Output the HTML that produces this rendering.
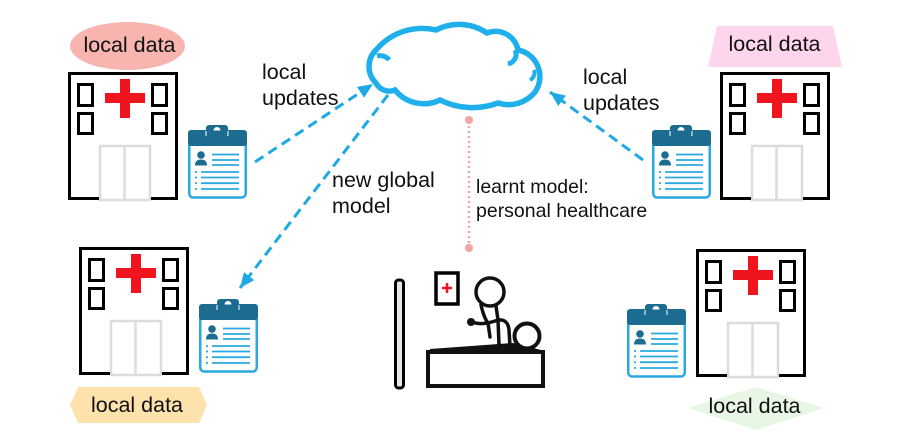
<!DOCTYPE html>
<html>
<head>
<meta charset="utf-8">
<style>
  html, body { margin: 0; padding: 0; background: #fff; }
  svg { display: block; }
  text { font-family: "Liberation Sans", Arial, sans-serif; fill: #111; }
</style>
</head>
<body>
<svg width="900" height="445" viewBox="0 0 900 445" xmlns="http://www.w3.org/2000/svg">
  <defs>
    <g id="hosp">
      <rect x="32" y="74" width="50" height="54" fill="#fff" stroke="#dcdcdc" stroke-width="2.5"/>
      <line x1="56.5" y1="74" x2="56.5" y2="128" stroke="#dcdcdc" stroke-width="2.5"/>
      <path d="M31 126.5 L1.5 126.5 L1.5 1.5 L108.5 1.5 L108.5 126.5 L83 126.5" fill="none" stroke="#000" stroke-width="3"/>
      <rect x="10.5" y="12.5" width="14" height="21" fill="none" stroke="#000" stroke-width="3"/>
      <rect x="10.5" y="41.5" width="14" height="20" fill="none" stroke="#000" stroke-width="3"/>
      <rect x="84.5" y="12.5" width="14" height="21" fill="none" stroke="#000" stroke-width="3"/>
      <rect x="84.5" y="41.5" width="14" height="20" fill="none" stroke="#000" stroke-width="3"/>
      <rect x="37" y="21" width="40" height="10" fill="#f0141e"/>
      <rect x="52" y="7" width="10" height="39" fill="#f0141e"/>
    </g>
    <g id="clip">
      <rect x="1.25" y="14" width="56.5" height="58.5" rx="4" fill="#fff" stroke="#29a9e1" stroke-width="2.5"/>
      <rect x="0" y="5" width="59" height="16" rx="3" fill="#1b6c90"/>
      <rect x="18" y="0" width="22" height="9" rx="3" fill="#1b6c90"/>
      <path d="M25.5 5.5 A3.5 3.5 0 0 1 32.5 5.5 Z" fill="#fff"/>
      <line x1="18" y1="6" x2="18" y2="11" stroke="#fff" stroke-width="1"/>
      <line x1="40" y1="6" x2="40" y2="11" stroke="#fff" stroke-width="1"/>
      <circle cx="13" cy="30" r="3.8" fill="#1b6c90"/>
      <path d="M7 40.5 Q7 34.5 13 34.5 Q19 34.5 19 40.5 Z" fill="#1b6c90"/>
      <g stroke="#29a9e1" stroke-width="1.8">
        <line x1="24" y1="29.5" x2="51" y2="29.5"/>
        <line x1="24" y1="35" x2="51" y2="35"/>
        <line x1="24" y1="40" x2="51" y2="40"/>
        <line x1="13" y1="47" x2="51" y2="47"/>
        <line x1="13" y1="52.5" x2="51" y2="52.5"/>
        <line x1="13" y1="58.2" x2="51" y2="58.2"/>
        <line x1="13" y1="64" x2="51" y2="64"/>
        <line x1="7" y1="47" x2="9" y2="47"/>
        <line x1="7" y1="52.5" x2="9" y2="52.5"/>
        <line x1="7" y1="58.2" x2="9" y2="58.2"/>
        <line x1="7" y1="64" x2="9" y2="64"/>
      </g>
    </g>
    <marker id="ah" markerUnits="userSpaceOnUse" markerWidth="16" markerHeight="14" refX="15" refY="6.5" orient="auto">
      <path d="M0 0 L15 6.5 L0 13 Z" fill="#1da9e4"/>
    </marker>
  </defs>

  <!-- Labels backgrounds -->
  <ellipse cx="127.5" cy="46" rx="57.5" ry="24" fill="#f8b5b0"/>
  <polygon points="717,26 833,26 842,67 708,67" fill="#fdd6ee"/>
  <polygon points="78,387 199,387 207,405 199,423 78,423 70,405" fill="#fde3ab"/>
  <polygon points="688,408 756,387 824,408 756,430" fill="#e8f7e4"/>

  <text x="129.5" y="52" font-size="21.5" text-anchor="middle">local data</text>
  <text x="774.5" y="51" font-size="21.5" text-anchor="middle">local data</text>
  <text x="137" y="412" font-size="21.5" text-anchor="middle">local data</text>
  <text x="754.5" y="413" font-size="21.5" text-anchor="middle">local data</text>

  <!-- Hospitals -->
  <use href="#hosp" x="68" y="72"/>
  <use href="#hosp" x="720" y="72"/>
  <use href="#hosp" x="79" y="247"/>
  <use href="#hosp" x="696" y="249"/>

  <!-- Clipboards -->
  <use href="#clip" x="188" y="125"/>
  <use href="#clip" x="652" y="125"/>
  <use href="#clip" x="199" y="299"/>
  <use href="#clip" x="627" y="304"/>

  <!-- Cloud -->
  <path d="M376 83 A23 23 0 0 1 376 50 A60 60 0 0 1 436 30 A50 50 0 0 1 487 33 A23 23 0 0 1 518 50 A27 27 0 0 1 535 92 A34 34 0 0 1 498 103 A73 73 0 0 1 440 100 A37 37 0 0 1 395 90 A15 15 0 0 1 376 83 Z"
        fill="#fff" stroke="#1fb0ec" stroke-width="5.5"/>
  <path d="M377 56 A10 8 0 0 1 389 60" fill="none" stroke="#1fb0ec" stroke-width="5"/>
  <path d="M508 64 A11 10 0 0 0 515 50" fill="none" stroke="#1fb0ec" stroke-width="5"/>
  <path d="M530 80 A8 8 0 0 0 534 70" fill="none" stroke="#1fb0ec" stroke-width="4"/>

  <!-- Dashed arrows -->
  <g stroke="#1da9e4" stroke-width="3" stroke-dasharray="10 6" fill="none">
    <line x1="255" y1="162" x2="373" y2="84" marker-end="url(#ah)"/>
    <line x1="388" y1="95" x2="240" y2="288" marker-end="url(#ah)"/>
    <line x1="643" y1="160" x2="550" y2="92" marker-end="url(#ah)"/>
  </g>

  <!-- Pink dotted connector -->
  <line x1="469" y1="121" x2="469" y2="247" stroke="#f4a3a3" stroke-width="2.5" stroke-dasharray="2 3"/>
  <circle cx="469" cy="120" r="4" fill="#f4a3a3"/>
  <circle cx="469" cy="248" r="4" fill="#f4a3a3"/>

  <!-- Texts -->
  <text x="262" y="79" font-size="21.5">local</text>
  <text x="262" y="105" font-size="21.5">updates</text>
  <text x="583" y="84" font-size="21.5">local</text>
  <text x="583" y="110" font-size="21.5">updates</text>
  <text x="332" y="187" font-size="21.5">new global</text>
  <text x="332" y="213" font-size="21.5">model</text>
  <text x="476" y="193" font-size="19.5">learnt model:</text>
  <text x="476" y="217" font-size="19.5">personal healthcare</text>

  <!-- Patient scene -->
  <rect x="395.5" y="280" width="8" height="108" rx="3" fill="#e6e6e6" stroke="#000" stroke-width="3"/>
  <rect x="436" y="273" width="22" height="31" fill="#fff" stroke="#000" stroke-width="3.5"/>
  <line x1="442" y1="288" x2="452" y2="288" stroke="#f0141e" stroke-width="2.5"/>
  <line x1="447" y1="283" x2="447" y2="293" stroke="#f0141e" stroke-width="2.5"/>
  <rect x="428" y="352" width="115" height="34" fill="#fff" stroke="#111" stroke-width="4"/>
  <path d="M430 349 L513 343 L545 351 L430 351 Z" fill="#111"/>
  <circle cx="527" cy="336" r="12.5" fill="#fff" stroke="#111" stroke-width="4"/>
  <circle cx="490" cy="292" r="14" fill="#fff" stroke="#111" stroke-width="3.5"/>
  <g fill="none" stroke="#111" stroke-width="3.5" stroke-linecap="round">
    <path d="M496 306 L498 320 L499 345"/>
    <path d="M498 320 Q508 319 509 330 L510 346"/>
    <path d="M481 305 Q484 318 488 323 L490 337"/>
    <path d="M472 322 Q482 326 498 320"/>
  </g>
  <circle cx="471" cy="322" r="4" fill="#111"/>
</svg>
</body>
</html>
